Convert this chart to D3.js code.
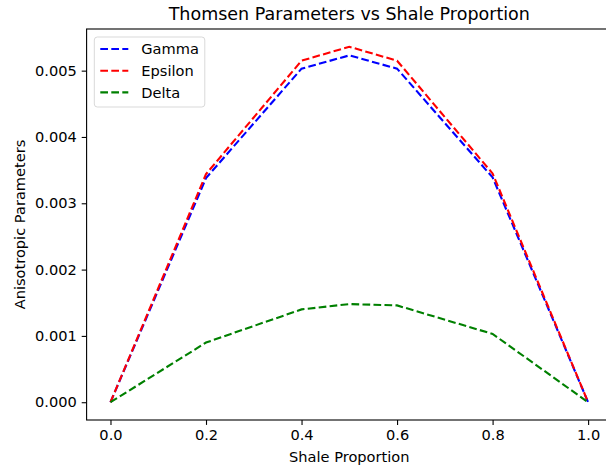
<!DOCTYPE html>
<html>
<head>
<meta charset="utf-8">
<script src="https://cdn.jsdelivr.net/npm/d3@7"></script>
<style>
  html, body { margin: 0; padding: 0; background: #fff; }
  svg text { font-family: "DejaVu Sans", sans-serif; fill: #000; }
</style>
</head>
<body>
<svg id="chart" width="606" height="467"></svg>
<script>
// data
const shale = [0.0, 0.2, 0.4, 0.5, 0.6, 0.8, 1.0];
const gamma = [0.0, 0.00338, 0.00503, 0.00523, 0.00503, 0.00339, 0.0];
const epsilon = [0.0, 0.00344, 0.00515, 0.00536, 0.00515, 0.00345, 0.0];
const delta = [0.0, 0.00090, 0.00140, 0.00148, 0.00146, 0.00103, 0.0];

const xTicks = [0.0, 0.2, 0.4, 0.6, 0.8, 1.0];
const yTicks = [0.000, 0.001, 0.002, 0.003, 0.004, 0.005];

const series = [
  { name: 'Gamma', values: gamma, color: '#0000ff' },
  { name: 'Epsilon', values: epsilon, color: '#ff0000' },
  { name: 'Delta', values: delta, color: '#008000' }
];

const svg = d3.select('#chart');
const plot = { left: 86.6, top: 29, right: 612, bottom: 420 };
const fs = '14.6px';

// matplotlib-style 5% margins
const yMax = d3.max(series, s => d3.max(s.values));
const yPad = yMax * 0.05;
const x = d3.scaleLinear().domain([-0.05, 1.05]).range([plot.left, plot.right]);
const y = d3.scaleLinear().domain([-yPad, yMax + yPad]).range([plot.bottom, plot.top]);

// axes
const xAxis = svg.append('g')
  .attr('transform', `translate(0,${plot.bottom})`)
  .call(d3.axisBottom(x).tickValues(xTicks).tickFormat(d3.format('.1f')).tickSizeOuter(0).tickSize(4.9).tickPadding(4.9));
const yAxis = svg.append('g')
  .attr('transform', `translate(${plot.left},0)`)
  .call(d3.axisLeft(y).tickValues(yTicks).tickFormat(d3.format('.3f')).tickSizeOuter(0).tickSize(4.9).tickPadding(4.9));

[xAxis, yAxis].forEach(a => {
  a.select('.domain').remove();
  a.selectAll('.tick line').attr('stroke', '#000').attr('stroke-width', 1.1);
  a.selectAll('.tick text').style('font-size', fs).attr('fill', '#000');
});

// spines
svg.append('rect')
  .attr('x', plot.left).attr('y', plot.top)
  .attr('width', plot.right - plot.left).attr('height', plot.bottom - plot.top)
  .attr('fill', 'none').attr('stroke', '#000').attr('stroke-width', 1.1);

// lines
const line = d3.line()
  .x((d, i) => x(shale[i]))
  .y(d => y(d));

svg.append('g').selectAll('path')
  .data(series)
  .enter()
  .append('path')
  .attr('d', d => line(d.values))
  .attr('fill', 'none')
  .attr('stroke', d => d.color)
  .attr('stroke-width', 2.1)
  .attr('stroke-dasharray', '7.7,3.3');

// title and labels
svg.append('text')
  .attr('x', (plot.left + plot.right) / 2).attr('y', 20)
  .attr('text-anchor', 'middle')
  .style('font-size', '17.5px')
  .text('Thomsen Parameters vs Shale Proportion');

svg.append('text')
  .attr('x', (plot.left + plot.right) / 2).attr('y', 462)
  .attr('text-anchor', 'middle')
  .style('font-size', fs)
  .text('Shale Proportion');

svg.append('text')
  .attr('transform', `translate(25,${(plot.top + plot.bottom) / 2}) rotate(-90)`)
  .attr('text-anchor', 'middle')
  .style('font-size', fs)
  .text('Anisotropic Parameters');

// legend
const legend = svg.append('g').attr('transform', 'translate(94.3,37)');
legend.append('rect')
  .attr('width', 110.5).attr('height', 70)
  .attr('rx', 3).attr('ry', 3)
  .attr('fill', '#fff').attr('fill-opacity', 0.8)
  .attr('stroke', '#d9d9d9').attr('stroke-width', 1);

const items = legend.selectAll('.item')
  .data(series)
  .enter()
  .append('g')
  .attr('class', 'item')
  .attr('transform', (d, i) => `translate(0,${12 + i * 21.7})`);

items.append('line')
  .attr('x1', 6).attr('x2', 34)
  .attr('stroke', d => d.color)
  .attr('stroke-width', 2.1)
  .attr('stroke-dasharray', '7.7,3.3');

items.append('text')
  .attr('x', 47).attr('y', 5.3)
  .style('font-size', fs)
  .text(d => d.name);
</script>
</body>
</html>
